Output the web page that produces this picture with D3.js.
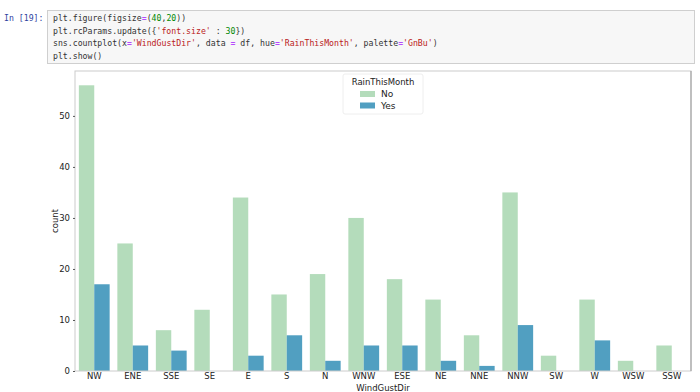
<!DOCTYPE html>
<html lang="en">
<head>
<meta charset="utf-8">
<title>WindGustDir countplot</title>
<style>
body{
  margin: 0;
  background: #fff;
  width: 700px;
  height: 392px;
  overflow: hidden;
}
.code text{
  font: 8.2px "DejaVu Sans Mono", monospace;
}
.axis text{
  font: 8.5px "DejaVu Sans", sans-serif;
  fill: #222;
}
.axis path{
  display: none;
}
.axis line{
  stroke: #555;
}
</style>
<script src="https://cdn.jsdelivr.net/npm/d3@7/dist/d3.min.js"></script>
</head>
<body>
<div id="chart"></div>
<script>
var directions = ['NW','ENE','SSE','SE','E','S','N','WNW','ESE','NE','NNE','NNW','SW','W','WSW','SSW'];
var rainNo  = [56, 25, 8, 12, 34, 15, 19, 30, 18, 14, 7, 35, 3, 14, 2, 5];
var rainYes = [17, 5, 4, 0, 3, 7, 2, 5, 5, 2, 1, 9, 0, 6, 0, 0];
var hueLevels = ['No', 'Yes'];
var yTicks = [0, 10, 20, 30, 40, 50];

var colors = {No: '#b4dcbb', Yes: '#519fc1'};

var svg = d3.select('#chart').append('svg')
  .attr('width', 700)
  .attr('height', 392);

/* notebook code cell */
var code = svg.append('g').attr('class', 'code');
code.append('rect')
  .attr('x', 47.5).attr('y', 10.5)
  .attr('width', 647).attr('height', 53)
  .attr('fill', '#f7f7f7')
  .attr('stroke', '#cfcfcf');
code.append('text')
  .attr('x', 4).attr('y', 21)
  .attr('fill', '#303f9f')
  .text('In [19]:');

var codeLines = [
  [['plt.figure(figsize', '#333'], ['=', '#aa22ff'], ['(', '#333'], ['40', '#008800'], [',', '#333'], ['20', '#008800'], ['))', '#333']],
  [['plt.rcParams.update({', '#333'], ["'font.size'", '#ba2121'], [' : ', '#333'], ['30', '#008800'], ['})', '#333']],
  [['sns.countplot(x', '#333'], ['=', '#aa22ff'], ["'WindGustDir'", '#ba2121'], [', data ', '#333'], ['=', '#aa22ff'], [' df, hue', '#333'], ['=', '#aa22ff'], ["'RainThisMonth'", '#ba2121'], [', palette', '#333'], ['=', '#aa22ff'], ["'GnBu'", '#ba2121'], [')', '#333']],
  [['plt.show()', '#333']]
];
codeLines.forEach(function(parts, i) {
  var t = code.append('text')
    .attr('x', 53)
    .attr('y', 21 + i * 12.5);
  parts.forEach(function(p) {
    t.append('tspan').attr('fill', p[1]).text(p[0]);
  });
});

/* chart area */
var margin = {top: 71, left: 75, right: 9, bottom: 21};
var width = 700 - margin.left - margin.right;
var height = 392 - margin.top - margin.bottom;

var g = svg.append('g')
  .attr('transform', 'translate(' + margin.left + ',' + margin.top + ')');

var x = d3.scaleBand()
  .domain(directions)
  .range([0, width])
  .paddingInner(0)
  .paddingOuter(0);

var xHue = d3.scaleBand()
  .domain(hueLevels)
  .range([x.bandwidth() * 0.1, x.bandwidth() * 0.9]);

var y = d3.scaleLinear()
  .domain([0, d3.max(rainNo) * 1.05])
  .range([height, 0]);

var rows = directions.map(function(d, i) {
  return {dir: d, No: rainNo[i], Yes: rainYes[i]};
});

var groups = g.selectAll('.grp')
  .data(rows)
  .enter().append('g')
  .attr('class', 'grp')
  .attr('transform', function(d) { return 'translate(' + x(d.dir) + ',0)'; });

groups.selectAll('rect')
  .data(function(d) { return hueLevels.map(function(h) { return {key: h, value: d[h]}; }); })
  .enter().append('rect')
  .attr('x', function(d) { return xHue(d.key); })
  .attr('width', xHue.bandwidth())
  .attr('y', function(d) { return y(d.value); })
  .attr('height', function(d) { return height - y(d.value); })
  .attr('fill', function(d) { return colors[d.key]; });

/* frame */
g.append('rect')
  .attr('x', 0).attr('y', 0)
  .attr('width', width).attr('height', height)
  .attr('fill', 'none')
  .attr('stroke', '#cccccc')
  .attr('stroke-width', 1);
g.append('line')
  .attr('x1', width).attr('x2', width)
  .attr('y1', 0).attr('y2', height)
  .attr('stroke', '#999');

g.append('g')
  .attr('class', 'axis')
  .attr('transform', 'translate(0,' + height + ')')
  .call(d3.axisBottom(x).tickSize(0).tickPadding(2));

g.append('g')
  .attr('class', 'axis')
  .call(d3.axisLeft(y).tickValues(yTicks).tickSize(2).tickPadding(3));

g.append('text')
  .attr('transform', 'translate(' + (-17) + ',' + (height / 2) + ') rotate(-90)')
  .attr('text-anchor', 'middle')
  .style('font', '8.5px "DejaVu Sans", sans-serif')
  .attr('fill', '#222')
  .text('count');

g.append('text')
  .attr('x', width / 2)
  .attr('y', height + 20)
  .attr('text-anchor', 'middle')
  .style('font', '8.5px "DejaVu Sans", sans-serif')
  .attr('fill', '#222')
  .text('WindGustDir');

/* legend */
var legend = g.append('g')
  .attr('transform', 'translate(' + (width / 2 - 40) + ',3)');
legend.append('rect')
  .attr('width', 80).attr('height', 40)
  .attr('fill', '#fff')
  .attr('stroke', '#eee')
  .attr('rx', 2);
legend.append('text')
  .attr('x', 40).attr('y', 11)
  .attr('text-anchor', 'middle')
  .style('font', '8.5px "DejaVu Sans", sans-serif')
  .attr('fill', '#222')
  .text('RainThisMonth');
hueLevels.forEach(function(h, i) {
  legend.append('rect')
    .attr('x', 17).attr('y', 17 + i * 11.5)
    .attr('width', 15).attr('height', 6)
    .attr('fill', colors[h]);
  legend.append('text')
    .attr('x', 38).attr('y', 23 + i * 11.5)
    .style('font', '9px "DejaVu Sans", sans-serif')
    .attr('fill', '#222')
    .text(h);
});
</script>
</body>
</html>
